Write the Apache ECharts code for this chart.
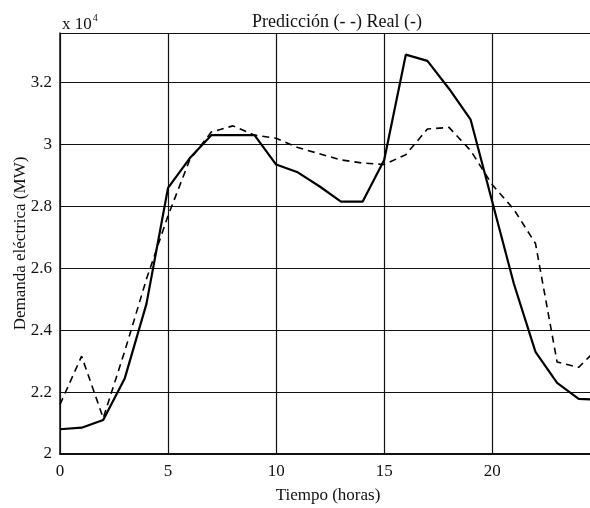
<!DOCTYPE html>
<html>
<head>
<meta charset="utf-8">
<script src="https://cdn.jsdelivr.net/npm/echarts@6/dist/echarts.min.js"></script>
<style>html,body{margin:0;padding:0;background:#fff}#c{width:590px;height:508px}</style>
</head>
<body>
<div id="c"></div>
<script>
const hours = [0,1,2,3,4,5,6,7,8,9,10,11,12,13,14,15,16,17,18,19,20,21,22,23,24,25];
const real = [2.08,2.085,2.11,2.245,2.485,2.86,2.955,3.03,3.03,3.03,2.935,2.91,2.865,2.815,2.815,2.95,3.29,3.27,3.18,3.08,2.815,2.55,2.33,2.23,2.178,2.175];
const pred = [2.16,2.316,2.116,2.333,2.565,2.77,2.95,3.04,3.06,3.03,3.02,2.99,2.97,2.95,2.94,2.935,2.967,3.05,3.055,2.98,2.87,2.79,2.68,2.297,2.28,2.35];
const xTicks = [0,5,10,15,20];
const yTicks = [2,2.2,2.4,2.6,2.8,3,3.2];
const titleText = 'Predicción (- -) Real (-)';
const xName = 'Tiempo (horas)';
const yName = 'Demanda eléctrica (MW)';

const font = '"Liberation Serif", "DejaVu Serif", serif';
const chart = echarts.init(document.getElementById('c'), null, {renderer:'canvas'});
const isTick = (arr, v) => arr.some(t => Math.abs(t - v) < 1e-6);
chart.setOption({
  animation: false,
  backgroundColor: '#fff',
  title: [
    {text: titleText, left: 332, top: 8, textAlign: 'center',
     textStyle: {fontFamily: font, fontSize: 18, fontWeight: 'normal', color: '#111'}},
    {text: '{a|x 10}{b|4}', left: 57, top: 8,
     textStyle: {fontWeight: 'normal', rich: {
       a: {fontFamily: font, fontSize: 17, fontWeight: 'normal', color: '#111', verticalAlign: 'bottom'},
       b: {fontFamily: font, fontSize: 10, fontWeight: 'normal', color: '#111', verticalAlign: 'top', padding: [0,0,10,1]}
     }}}
  ],
  grid: {left: 60, width: 536, top: 33, bottom: 54, show: false, containLabel: false, outerBoundsMode: 'none'},
  xAxis: {
    type: 'value', min: 0, max: 24.8, interval: 5,
    name: xName, nameLocation: 'middle', nameGap: 33,
    nameTextStyle: {fontFamily: font, fontSize: 17, color: '#111'},
    axisLine: {show: true, lineStyle: {color: '#111', width: 2}},
    axisTick: {show: false},
    axisLabel: {fontFamily: font, fontSize: 17, color: '#111', margin: 9,
      formatter: v => isTick(xTicks, v) ? String(v) : ''},
    splitLine: {show: true, lineStyle: {color: '#111', width: 1.2}}
  },
  yAxis: {
    type: 'value', min: 2, max: 3.36, interval: 0.2,
    name: yName, nameLocation: 'middle', nameGap: 31, nameRotate: 90, nameMoveOverlap: false,
    nameTextStyle: {fontFamily: font, fontSize: 17, color: '#111'},
    axisLine: {show: true, lineStyle: {color: '#111', width: 1.5}},
    axisTick: {show: false},
    axisLabel: {fontFamily: font, fontSize: 17, color: '#111', margin: 8,
      formatter: v => isTick(yTicks, v) ? String(Math.round(v*10)/10) : ''},
    splitLine: {show: true, lineStyle: {color: '#111', width: 1.2}}
  },
  series: [
    {name: 'Real', type: 'line', data: hours.map((h,i)=>[h, real[i]]),
     showSymbol: false, clip: true,
     lineStyle: {color: '#000', width: 2.2, type: 'solid'}},
    {name: 'Predicción', type: 'line', data: hours.map((h,i)=>[h, pred[i]]),
     showSymbol: false, clip: true,
     lineStyle: {color: '#000', width: 1.6, type: [7,5]}}
  ]
});
</script>
</body>
</html>
